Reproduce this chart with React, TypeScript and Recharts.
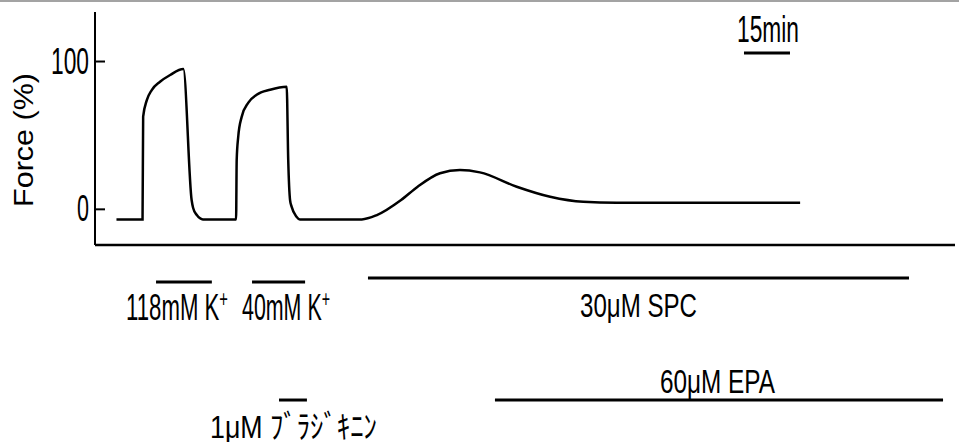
import React from 'react';
import { LineChart, Line, XAxis, YAxis, ReferenceLine } from 'recharts';

// ---------- data ----------
// isometric force trace: time (min) and force (% of 118 mM K+ contraction)
const TIME_MIN = [
  7.0, 15.5, 15.7, 16.9, 18.5, 21.2, 24.5, 28.8, 31.5, 32.0, 33.2, 35.2,
  46.0, 46.2, 46.7, 47.8, 50.0, 52.7, 57.1, 62.5, 63.0, 63.6, 64.1, 65.7, 66.8,
  87.0, 91.9, 99.8, 105.2, 112.5, 119.0, 125.5, 137.5, 148.4, 159.2, 170.1, 229.9,
];
const FORCE_PCT = [
  -6.8, -6.8, 62.7, 73.9, 80.7, 86.3, 90.9, 94.9, 6.3, 0.9, -3.9, -6.8,
  -6.8, 33.4, 49.1, 62.4, 72.2, 77.5, 80.9, 82.9, 33.4, 6.3, 1.8, -5.0, -6.8,
  -6.8, -3.9, 6.3, 15.3, 24.4, 26.6, 25.0, 15.3, 8.5, 5.1, 4.5, 4.5,
];
const Y_TICKS = [0, 100];
const Y_LABEL = 'Force (%)';

// stimulus application periods (min)
const STIM_NAMES = ['118mM K', '40mM K', '30\u03bcM SPC', '1\u03bcM \uff8c\uff9e\uff97\uff7c\uff9e\uff77\uff86\uff9d', '60\u03bcM EPA'];
const STIM_SUPER = ['+', '+', '', '', ''];
const STIM_START = [19.9, 51.2, 89.0, 60.0, 130.4];
const STIM_END = [38.1, 68.5, 265.4, 69.1, 276.5];
const SCALE_BAR_MIN = [211.6, 226.6];
const SCALE_BAR_LABEL = '15min';

// ---------- layout ----------
const W = 959;
const H = 442;
const T_MAX = 280.4;
const Y_MIN = -157.4;
const Y_MAX = 133.5;
const AXIS_Y = -24.2;
const STIM_ROW = [-49.2, -49.2, -46.5, -129.0, -129.0];
const SCALE_ROW = 105.7;
const LATIN = "'Liberation Sans Narrow','Liberation Sans','Noto Sans CJK JP',sans-serif";

const LABEL_POS = [
  { x: 126, y: 320, w: 102, size: 36 },
  { x: 242, y: 320, w: 88, size: 36 },
  { x: 580, y: 317, w: 117, size: 34 },
  { x: 210, y: 438, w: 167, size: 32 },
  { x: 660, y: 393, w: 115, size: 34 },
];

const data = TIME_MIN.map((t, i) => ({ t, force: FORCE_PCT[i] }));

function NText(props: any) {
  const { x, y, w, size, anchor = 'start', family = LATIN, children } = props;
  return (
    <text
      x={x}
      y={y}
      fontSize={size}
      fontFamily={family}
      textLength={w}
      lengthAdjust="spacingAndGlyphs"
      textAnchor={anchor}
      fill="#000"
    >
      {children}
    </text>
  );
}

function YTick(props: any) {
  const { x, y, payload } = props;
  const v = payload.value;
  const w = v === 100 ? 38 : 12;
  return (
    <g>
      <line x1={x + 8} x2={x + 18} y1={y} y2={y} stroke="#000" strokeWidth={2} />
      <NText x={x + 2} y={y + 12} w={w} size={36} anchor="end">
        {String(v)}
      </NText>
    </g>
  );
}

export default function App() {
  return (
    <div style={{ position: 'absolute', left: 0, top: 0, width: W, height: H, background: '#fff' }}>
      <div style={{ position: 'absolute', left: 0, top: 0, width: W, height: 2, background: '#a3a3a3' }} />
      <LineChart width={W} height={H} data={data} margin={{ top: 12, right: 4, bottom: 0, left: 0 }}>
        <XAxis type="number" dataKey="t" domain={[0, T_MAX]} allowDataOverflow hide />
        <YAxis
          type="number"
          domain={[Y_MIN, Y_MAX]}
          allowDataOverflow
          ticks={Y_TICKS}
          width={95}
          axisLine={false}
          tickLine={false}
          tick={<YTick />}
          interval={0}
        />
        <ReferenceLine
          segment={[{ x: 0, y: AXIS_Y }, { x: 0, y: Y_MAX }]}
          stroke="#000"
          strokeWidth={2}
          ifOverflow="visible"
        />
        <ReferenceLine
          segment={[{ x: 0, y: AXIS_Y }, { x: T_MAX, y: AXIS_Y }]}
          stroke="#000"
          strokeWidth={2.5}
          ifOverflow="visible"
        />
        {STIM_NAMES.map((n, i) => (
          <ReferenceLine
            key={n}
            segment={[{ x: STIM_START[i], y: STIM_ROW[i] }, { x: STIM_END[i], y: STIM_ROW[i] }]}
            stroke="#000"
            strokeWidth={3}
            ifOverflow="visible"
          />
        ))}
        <ReferenceLine
          segment={[{ x: SCALE_BAR_MIN[0], y: SCALE_ROW }, { x: SCALE_BAR_MIN[1], y: SCALE_ROW }]}
          stroke="#000"
          strokeWidth={3}
          ifOverflow="visible"
        />
        <Line
          type="monotone"
          dataKey="force"
          stroke="#000"
          strokeWidth={2.5}
          dot={false}
          activeDot={false}
          isAnimationActive={false}
        />
      </LineChart>
      <svg
        width={W}
        height={H}
        style={{ position: 'absolute', left: 0, top: 0, pointerEvents: 'none' }}
      >
        <text
          x={33}
          y={140}
          transform="rotate(-90 33 140)"
          fontSize={28}
          fontFamily="'Liberation Sans',Arial,sans-serif"
          textLength={134}
          lengthAdjust="spacingAndGlyphs"
          textAnchor="middle"
          fill="#000"
        >
          {Y_LABEL}
        </text>
        <NText x={737} y={42} w={62} size={37}>
          {SCALE_BAR_LABEL}
        </NText>
        {STIM_NAMES.map((n, i) => {
          const p: any = LABEL_POS[i];
          return (
            <NText key={n} x={p.x} y={p.y} w={p.w} size={p.size}>
              {n}
              {STIM_SUPER[i] ? (
                <tspan dy={-13} fontSize={24}>
                  {STIM_SUPER[i]}
                </tspan>
              ) : null}
            </NText>
          );
        })}
      </svg>
    </div>
  );
}
